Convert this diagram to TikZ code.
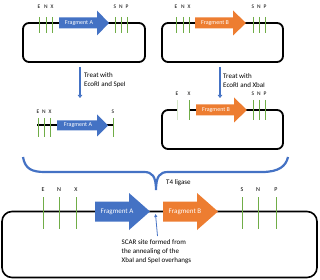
\documentclass[tikz,border=0pt]{standalone}
\usepackage{fontspec}
\setmainfont{Carlito}
\usetikzlibrary{arrows.meta}
\definecolor{oblue}{HTML}{4472C4}
\definecolor{oorange}{HTML}{ED7D31}
\definecolor{ogreen}{HTML}{70AD47}
\newcommand\fragshift{1}
\newcommand\fragarrow[9]{% x1, head start, tip, yc, half body, half head, colour, name, text
  \fill[#7] (#1,#4-#5) -- (#2,#4-#5) -- (#2,#4-#6) -- (#3,#4) -- (#2,#4+#6) -- (#2,#4+#5) -- (#1,#4+#5) -- cycle;
  \node[fragtext] (#8) at ({(#1+#2)/2+\fragshift},#4) {#9};}
\newcommand\sitemark[5]{% x, y1, y2, label y, label
  \draw[site] (#1,#2) -- (#1,#3);
  \node[lbl] at (#1,#4) {#5};}
\begin{document}
\begin{tikzpicture}[x=1pt,y=-1pt,
  plasmid/.style={draw=black, line width=1.8pt, rounded corners=6pt},
  site/.style={draw=ogreen, line width=1pt},
  lbl/.style={font=\fontsize{5.5}{6}\selectfont, inner sep=0pt},
  note/.style={font=\fontsize{7}{9}\selectfont, inner sep=0pt, align=left, anchor=west},
  fragtext/.style={font=\fontsize{6}{6}\selectfont, text=white, inner sep=0pt},
  treat/.style={draw=oblue, line width=1.5pt, -{Triangle[length=3pt,width=4.5pt]}}
]
\useasboundingbox (0,0) rectangle (320,280);

% ---- plasmid A (top left)
\draw[plasmid] (23,23) rectangle (145,62);
\foreach \x/\t in {39/E,46/N,52/X,115/S,121/N,127/P} {\sitemark{\x}{17}{33}{7}{\t}}
\fragarrow{59}{97}{109}{23}{5.5}{12.5}{oblue}{fA1}{Fragment A}

% ---- plasmid B (top right)
\draw[plasmid] (162,23) rectangle (283,62);
\foreach \x/\t in {176/E,183/N,189/X,253/S,259/N,265/P} {\sitemark{\x}{17}{33}{7}{\t}}
\fragarrow{195}{233}{246}{23}{5.5}{12.5}{oorange}{fB1}{Fragment B}

% ---- treatment arrows
\coordinate (tA1) at (80,67); \coordinate (tA2) at (80,98);
\draw[treat] (tA1) -- (tA2);
\node[note] (treatA) at (84,80.5) {Treat with\\EcoRI and SpeI};
\coordinate (tB1) at (220,67); \coordinate (tB2) at (220,98);
\draw[treat] (tB1) -- (tB2);
\node[note] (treatB) at (223,80.5) {Treat with\\EcoRI and XbaI};

% ---- linear fragment A
\draw[black, line width=1.5pt] (37,125) -- (113,125);
\foreach \x/\t in {38/E,44/N,50/X,113/S} {\sitemark{\x}{118}{137}{112}{\t}}
\fragarrow{57}{97}{108}{125.5}{5}{11}{oblue}{fA2}{Fragment A}

% ---- cut plasmid B
\draw[plasmid] (177,110) -- (162,110) -- (162,149) -- (283,149) -- (283,110) -- (189,110);
\draw[site, draw=ogreen!30] (177,100) -- (177,120);
\node[lbl] at (177,94) {E};
\foreach \x/\t in {189/X,253/S,259/N,265/P} {\sitemark{\x}{100}{120}{94}{\t}}
\fragarrow{196}{234}{247}{110}{5.5}{12.5}{oorange}{fB2}{Fragment B}

% ---- brace
\draw[oblue, line width=2.2pt] (23,157) .. controls (25,169) and (32,172) .. (45,172)
  -- (144,172) .. controls (152,172) and (156,176) .. (156,190)
  .. controls (156,176) and (160,172) .. (168,172)
  -- (262,172) .. controls (279,172) and (286,166) .. (288,157);
\node[note] (lig) at (166,182.5) {T4 ligase};

% ---- final plasmid
\draw[plasmid, line width=1.6pt, rounded corners=10pt] (2,211.5) rectangle (317,277.5);
\begin{scope}[lbl/.append style={font=\fontsize{6}{6}\selectfont},
  fragtext/.append style={font=\fontsize{7}{8}\selectfont}]
\renewcommand\fragshift{5}
\foreach \x/\t in {43/E,59/N,76/X,242/S,258/N,276/P} {\sitemark{\x}{197}{229}{190}{\t}}
\fragarrow{95}{129}{150}{211.5}{10}{18.5}{oblue}{fA3}{Fragment A}
\fragarrow{163}{197}{218}{211.5}{10}{18.5}{oorange}{fB3}{Fragment B}
\end{scope}

% ---- scar annotation
\node[note] (scar) at (121.5,252) {SCAR site formed from\\the annealing of the\\XbaI and SpeI overhangs};
\coordinate (sc1) at (157.5,236); \coordinate (sc2) at (155.5,214);
\draw[oblue, line width=0.8pt, -{Triangle[length=3pt,width=3pt]}] (sc1) -- (sc2);
\end{tikzpicture}
\end{document}
